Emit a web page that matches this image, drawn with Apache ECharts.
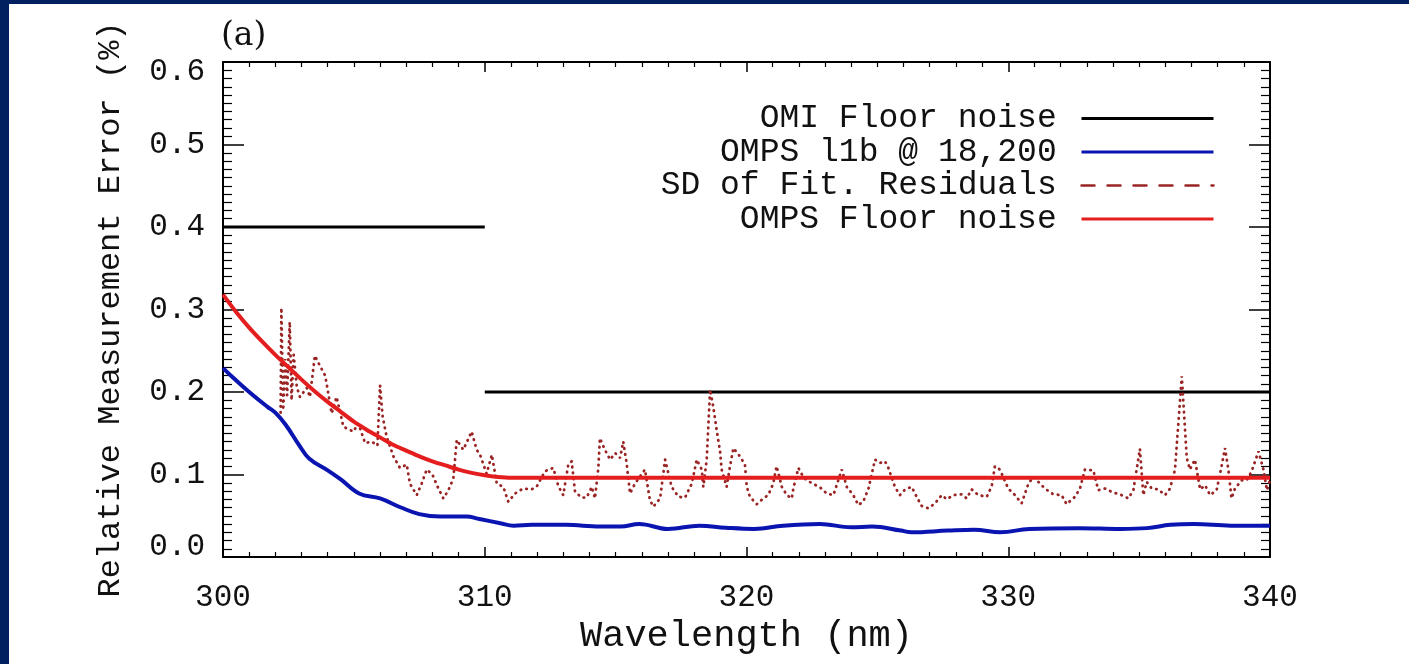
<!DOCTYPE html>
<html>
<head>
<meta charset="utf-8">
<title>Relative Measurement Error</title>
<script src="https://cdn.jsdelivr.net/npm/echarts@6/dist/echarts.min.js"></script>
<style>
  html, body { margin: 0; padding: 0; background: #ffffff; }
  #chart { width: 1409px; height: 664px; }
</style>
</head>
<body>
<div id="chart"></div>
<script>
// ---- data (wavelength in nm, error in %) ----
const xTicks = [300, 310, 320, 330, 340];
const yTicks = [0.0, 0.1, 0.2, 0.3, 0.4, 0.5, 0.6];

const seriesNames = ['OMI Floor noise', 'OMPS l1b @ 18,200', 'SD of Fit. Residuals', 'OMPS Floor noise'];

// OMI floor noise: two flat levels, broken at 310 nm
const omiWl  = [300, 310, 310, 310, 340];
const omiVal = [0.4, 0.4, null, 0.2, 0.2];

// OMPS level-1b noise at 18,200
const l1bWl = [300.0, 300.4, 301.0, 301.7, 302.0, 302.4, 302.9, 303.3, 304.0, 304.5,
  305.2, 306.0, 306.8, 307.5, 308.3, 309.3, 309.8, 310.6, 311.1, 311.8,
  312.5, 313.1, 314.4, 315.2, 315.9, 317.0, 318.2, 319.2, 320.3, 321.4,
  322.8, 324.0, 324.8, 325.9, 326.3, 327.7, 328.7, 329.7, 330.8, 332.7,
  334.3, 335.3, 336.2, 337.1, 338.5, 340.0];
const l1bVal = [0.229, 0.217, 0.200, 0.182, 0.175, 0.160, 0.136, 0.119, 0.105, 0.094,
  0.077, 0.071, 0.060, 0.052, 0.049, 0.049, 0.046, 0.041, 0.038, 0.039,
  0.039, 0.039, 0.037, 0.037, 0.040, 0.034, 0.038, 0.0355, 0.034, 0.038,
  0.040, 0.036, 0.037, 0.032, 0.030, 0.032, 0.033, 0.030, 0.034, 0.035,
  0.034, 0.035, 0.039, 0.040, 0.038, 0.038];

// standard deviation of fitting residuals
const residWl = [302.20, 302.23, 302.30, 302.38, 302.45, 302.55, 302.62, 302.70, 302.82, 302.94,
  303.20, 303.32, 303.51, 303.70, 303.90, 303.96, 304.15, 304.34, 304.60, 304.98,
  305.17, 305.43, 305.68, 305.90, 306.00, 306.10, 306.25, 306.51, 306.76, 307.02,
  307.14, 307.40, 307.59, 307.78, 308.00, 308.23, 308.42, 308.61, 308.80, 308.93,
  309.18, 309.50, 309.69, 309.82, 310.07, 310.27, 310.46, 310.71, 310.90, 311.16,
  311.47, 311.79, 311.98, 312.30, 312.62, 312.81, 313.00, 313.19, 313.32, 313.45,
  313.70, 313.89, 314.09, 314.21, 314.34, 314.40, 314.59, 314.79, 314.98, 315.17,
  315.29, 315.42, 315.55, 315.74, 316.12, 316.31, 316.44, 316.70, 316.89, 316.95,
  317.14, 317.40, 317.65, 317.91, 318.10, 318.29, 318.35, 318.48, 318.61, 318.73,
  318.86, 318.99, 319.05, 319.24, 319.37, 319.50, 319.75, 319.94, 320.01, 320.13,
  320.39, 320.64, 320.83, 321.02, 321.15, 321.35, 321.54, 321.73, 321.79, 321.98,
  322.17, 322.30, 322.87, 323.06, 323.32, 323.64, 323.83, 324.08, 324.27, 324.46,
  324.66, 324.91, 325.10, 325.29, 325.42, 325.67, 325.86, 326.06, 326.31, 326.50,
  326.69, 326.95, 327.20, 327.46, 327.65, 327.90, 328.22, 328.41, 328.60, 328.86,
  329.18, 329.37, 329.49, 329.68, 330.00, 330.26, 330.51, 330.77, 330.96, 331.40,
  331.72, 332.04, 332.23, 332.55, 332.74, 332.93, 333.25, 333.44, 333.70, 334.01,
  334.27, 334.59, 334.78, 335.03, 335.16, 335.29, 335.48, 335.73, 335.99, 336.18,
  336.37, 336.63, 336.82, 336.94, 337.13, 337.20, 337.33, 337.52, 337.71, 337.96,
  338.15, 338.28, 338.41, 338.53, 338.66, 338.92, 339.11, 339.30, 339.43, 339.56,
  339.75, 339.88, 340.00];
const residVal = [0.175, 0.302, 0.178, 0.240, 0.196, 0.285, 0.190, 0.245, 0.206, 0.194,
  0.205, 0.194, 0.244, 0.232, 0.220, 0.210, 0.174, 0.194, 0.158, 0.152,
  0.162, 0.138, 0.140, 0.135, 0.208, 0.170, 0.146, 0.122, 0.108, 0.112,
  0.089, 0.075, 0.089, 0.106, 0.100, 0.083, 0.071, 0.081, 0.095, 0.142,
  0.130, 0.152, 0.130, 0.124, 0.101, 0.124, 0.089, 0.085, 0.067, 0.077,
  0.083, 0.082, 0.085, 0.104, 0.108, 0.086, 0.075, 0.112, 0.116, 0.079,
  0.072, 0.072, 0.085, 0.071, 0.108, 0.144, 0.130, 0.118, 0.126, 0.120,
  0.140, 0.114, 0.077, 0.089, 0.106, 0.069, 0.061, 0.071, 0.118, 0.120,
  0.085, 0.073, 0.072, 0.089, 0.118, 0.106, 0.085, 0.118, 0.203, 0.182,
  0.154, 0.128, 0.106, 0.085, 0.110, 0.132, 0.122, 0.112, 0.085, 0.073,
  0.064, 0.071, 0.075, 0.089, 0.110, 0.085, 0.075, 0.071, 0.083, 0.108,
  0.097, 0.093, 0.083, 0.077, 0.075, 0.106, 0.085, 0.075, 0.063, 0.067,
  0.083, 0.118, 0.114, 0.116, 0.108, 0.085, 0.075, 0.082, 0.085, 0.073,
  0.062, 0.059, 0.065, 0.075, 0.070, 0.075, 0.076, 0.071, 0.082, 0.075,
  0.073, 0.086, 0.110, 0.106, 0.083, 0.075, 0.065, 0.089, 0.097, 0.083,
  0.076, 0.075, 0.064, 0.073, 0.083, 0.106, 0.105, 0.081, 0.083, 0.078,
  0.076, 0.071, 0.081, 0.131, 0.075, 0.091, 0.083, 0.082, 0.075, 0.083,
  0.106, 0.219, 0.120, 0.106, 0.118, 0.106, 0.082, 0.087, 0.075, 0.081,
  0.110, 0.132, 0.106, 0.071, 0.083, 0.093, 0.093, 0.104, 0.116, 0.128,
  0.106, 0.081, 0.093];

// OMPS floor noise model
const ompsWl  = [300.0, 300.5, 301.0, 301.5, 302.0, 302.5, 303.0, 303.5, 304.0, 304.5,
  305.0, 305.5, 306.0, 306.5, 307.0, 307.5, 308.0, 308.5, 309.0, 309.5,
  310.0, 310.5, 311.0, 312.0, 316.0, 320.0, 325.0, 330.0, 335.0, 340.0];
const ompsVal = [0.318, 0.297, 0.278, 0.261, 0.245, 0.230, 0.215, 0.201, 0.188, 0.176,
  0.164, 0.154, 0.145, 0.136, 0.129, 0.122, 0.116, 0.111, 0.106, 0.102,
  0.099, 0.097, 0.096, 0.096, 0.096, 0.096, 0.096, 0.096, 0.096, 0.096];

// ---- chart ----
const FONT = 'Liberation Mono';
const INK = '#111111';
const pairs = (xs, ys) => xs.map((x, i) => [x, ys[i] === null ? '-' : ys[i]]);

const chart = echarts.init(document.getElementById('chart'), null, { renderer: 'canvas' });

const xBase = {
  type: 'value', min: xTicks[0], max: xTicks[xTicks.length - 1], interval: 10,
  axisLine: { show: true, onZero: false, lineStyle: { color: '#000', width: 2 } },
  axisTick: { show: true, inside: true, length: 10, lineStyle: { color: '#000', width: 1.5 } },
  minorTick: { show: true, splitNumber: 10, length: 5, lineStyle: { color: '#000', width: 1.2 } },
  splitLine: { show: false }, minorSplitLine: { show: false }
};
const yBase = {
  type: 'value', min: yTicks[0], max: yTicks[yTicks.length - 1], interval: 0.1,
  axisLine: { show: true, onZero: false, lineStyle: { color: '#000', width: 2 } },
  axisTick: { show: true, inside: true, length: 21, lineStyle: { color: '#000', width: 1.5 } },
  minorTick: { show: true, splitNumber: 10, length: 9, lineStyle: { color: '#000', width: 1.2 } },
  splitLine: { show: false }, minorSplitLine: { show: false }
};

chart.setOption({
  animation: false,
  backgroundColor: '#ffffff',
  grid: { left: 223, top: 62, right: 139, bottom: 107, containLabel: false },
  xAxis: [
    Object.assign({}, xBase, {
      position: 'bottom',
      name: 'Wavelength (nm)', nameLocation: 'middle', nameGap: 60,
      nameTextStyle: { fontFamily: FONT, fontSize: 37, color: INK },
      axisLabel: { show: true, margin: 25, fontFamily: FONT, fontSize: 31, color: INK,
        formatter: v => String(v) }
    }),
    Object.assign({}, xBase, { position: 'top', axisLabel: { show: false } })
  ],
  yAxis: [
    Object.assign({}, yBase, {
      position: 'left',
      name: 'Relative Measurement Error (%)', nameLocation: 'middle', nameGap: 96,
      nameTextStyle: { fontFamily: FONT, fontSize: 32, color: INK },
      axisLabel: { show: true, margin: 18, fontFamily: FONT, fontSize: 31, color: INK,
        lineHeight: 20,
        formatter: v => v.toFixed(1),
        verticalAlignMinLabel: 'bottom', verticalAlignMaxLabel: 'top' }
    }),
    Object.assign({}, yBase, { position: 'right', axisLabel: { show: false } })
  ],
  legend: {
    show: true, orient: 'vertical', align: 'right',
    right: 194, top: 102, padding: 0, itemGap: 0.5,
    itemWidth: 132, itemHeight: 2,
    formatter: name => name + ' ',
    textStyle: { fontFamily: FONT, fontSize: 33, color: INK, lineHeight: 32 },
    itemStyle: { opacity: 0 },
    lineStyle: { width: 3 },
    data: [
      { name: seriesNames[0] },
      { name: seriesNames[1] },
      { name: seriesNames[2], lineStyle: { type: [13, 13], width: 2.5 } },
      { name: seriesNames[3] }
    ]
  },
  graphic: [
    { type: 'rect', left: 0, top: 0, shape: { width: 9, height: 664 }, style: { fill: '#002060' }, silent: true },
    { type: 'rect', left: 0, top: 0, shape: { width: 1409, height: 4 }, style: { fill: '#002060' }, silent: true },
    { type: 'text', left: 221, top: 20, style: { text: '(a)', fontFamily: 'DejaVu Serif', fontSize: 33, fill: INK } }
  ],
  series: [
    {
      name: seriesNames[0], type: 'line', xAxisIndex: 0, yAxisIndex: 0,
      data: pairs(omiWl, omiVal), symbol: 'none', connectNulls: false,
      lineStyle: { color: '#000000', width: 3 }, itemStyle: { color: '#000000' }, z: 3
    },
    {
      name: seriesNames[1], type: 'line', xAxisIndex: 0, yAxisIndex: 0,
      data: pairs(l1bWl, l1bVal), symbol: 'none', smooth: 0.4,
      lineStyle: { color: '#0a14b0', width: 4 }, itemStyle: { color: '#0a14b0' }, z: 3
    },
    {
      name: seriesNames[2], type: 'line', xAxisIndex: 0, yAxisIndex: 0,
      data: pairs(residWl, residVal), symbol: 'none',
      lineStyle: { color: '#9a2424', width: 2.8, type: [0.5, 5.5], cap: 'round' },
      itemStyle: { color: '#9a2424' }, z: 3
    },
    {
      name: seriesNames[3], type: 'line', xAxisIndex: 0, yAxisIndex: 0,
      data: pairs(ompsWl, ompsVal), symbol: 'none', smooth: 0.3,
      lineStyle: { color: '#e41e1e', width: 4 }, itemStyle: { color: '#e41e1e' }, z: 4
    }
  ]
});
</script>
</body>
</html>
